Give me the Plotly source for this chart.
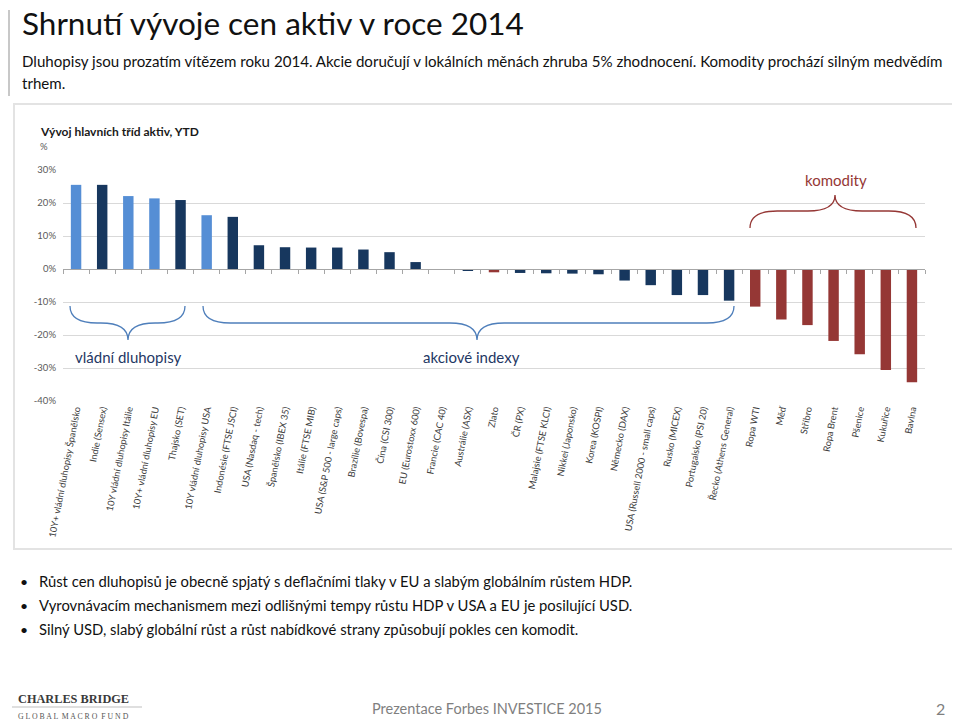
import plotly.graph_objects as go

# page renders the figure with an 8px body margin
OFF = 8
W, H = 952, 714

categories = [
    "10Y+ vládní dluhopisy Španělsko", "Indie (Sensex)", "10Y vládní dluhopisy Itálie",
    "10Y+ vládní dluhopisy EU", "Thajsko (SET)", "10Y vládní dluhopisy USA",
    "Indonésie (FTSE JSCI)", "USA (Nasdaq - tech)", "Španělsko (IBEX 35)",
    "Itálie (FTSE MIB)", "USA (S&P 500 - large caps)", "Brazílie (Bovespa)",
    "Čína (CSI 300)", "EU (Eurostoxx 600)", "Francie (CAC 40)", "Austrálie (ASX)",
    "Zlato", "ČR (PX)", "Malajsie (FTSE KLCI)", "Nikkei (Japonsko)", "Korea (KOSPI)",
    "Německo (DAX)", "USA (Russell 2000 - small caps)", "Rusko (MICEX)",
    "Portugalsko (PSI 20)", "Řecko (Athens General)", "Ropa WTI", "Měď", "Stříbro",
    "Ropa Brent", "Pšenice", "Kukuřice", "Bavlna",
]
values = [
    25.5, 25.5, 22.1, 21.4, 20.9, 16.3, 15.8, 7.2, 6.6, 6.5, 6.5, 5.9, 5.1, 2.1,
    -0.3, -0.6, -1.0, -1.2, -1.3, -1.4, -1.6, -3.5, -4.9, -7.9, -7.9, -9.6,
    -11.4, -15.3, -17.0, -21.8, -25.8, -30.6, -34.3,
]
groups = [
    "bond", "equity", "bond", "bond", "equity", "bond", "equity", "equity", "equity",
    "equity", "equity", "equity", "equity", "equity", "equity", "equity", "commodity",
    "equity", "equity", "equity", "equity", "equity", "equity", "equity", "equity",
    "equity", "commodity", "commodity", "commodity", "commodity", "commodity",
    "commodity", "commodity",
]
ytick_vals = [-40, -30, -20, -10, 0, 10, 20, 30]
ytick_text = ["-40%", "-30%", "-20%", "-10%", "0%", "10%", "20%", "30%"]
YMIN, YMAX = -40, 30

group_colors = {"bond": "#558ED5", "equity": "#17375E", "commodity": "#953735"}
bar_colors = [group_colors[g] for g in groups]

FONT = "Lato, 'Open Sans', sans-serif"


def px(x):
    return (x - OFF) / W


def py(y):
    return 1 - (y - OFF) / H


x_dom = [px(63), px(925)]
y_dom = [py(401), py(170)]
zero_pos = y_dom[0] + (y_dom[1] - y_dom[0]) * (0 - YMIN) / (YMAX - YMIN)

fig = go.Figure()
fig.add_trace(go.Bar(
    x=categories, y=values, marker=dict(color=bar_colors, line=dict(width=0)),
    hoverinfo="x+y", showlegend=False,
))
# invisible trace to carry the zero-line axis with tick marks
fig.add_trace(go.Scatter(
    x=categories, y=[0] * len(categories), xaxis="x2", mode="markers",
    marker=dict(opacity=0), hoverinfo="skip", showlegend=False,
))

fig.update_layout(
    width=W, height=H, margin=dict(l=0, r=0, t=0, b=0),
    paper_bgcolor="white", plot_bgcolor="white",
    bargap=0.6,
    font=dict(family=FONT, color="#404040"),
    xaxis=dict(
        domain=x_dom, anchor="y", type="category", categoryorder="array",
        categoryarray=categories, range=[-0.5, len(categories) - 0.5],
        tickangle=-79, tickfont=dict(size=9.3, color="#404040", family=FONT),
        showline=False, showgrid=False, ticks="", automargin=False,
    ),
    xaxis2=dict(
        domain=x_dom, overlaying="x", anchor="free", position=zero_pos,
        type="category", categoryorder="array", categoryarray=categories,
        range=[-0.5, len(categories) - 0.5], showticklabels=False,
        showline=True, linecolor="#A6A6A6", linewidth=1.2,
        ticks="outside", ticklen=4, tickcolor="#A6A6A6", tickson="boundaries",
        showgrid=False, automargin=False,
    ),
    yaxis=dict(
        domain=y_dom, range=[YMIN, YMAX], tickvals=ytick_vals, ticktext=ytick_text,
        tickfont=dict(size=9.5, color="#595959", family=FONT),
        showgrid=True, gridcolor="#D9D9D9", gridwidth=1, zeroline=False,
        showline=False, ticks="", ticklabelstandoff=6, automargin=False,
    ),
)

shapes = []
# chart frame
shapes.append(dict(type="rect", xref="paper", yref="paper", x0=px(14), x1=px(957),
                   y0=py(549), y1=py(104), line=dict(color="#E3E3E3", width=2),
                   layer="below"))
# left slide accent line
shapes.append(dict(type="line", xref="paper", yref="paper", x0=px(9), x1=px(9),
                   y0=py(10), y1=py(96), line=dict(color="#C8C8C8", width=2)))
# footer logo rule
shapes.append(dict(type="line", xref="paper", yref="paper", x0=px(12), x1=px(142),
                   y0=py(707), y1=py(707), line=dict(color="#BFBFBF", width=1)))


def brace_path(x0, x1, y_end, y_mid, y_tip, xc):
    r = abs(y_mid - y_end)

    def P(x, y):
        return f"{px(x):.5f},{py(y):.5f}"
    d = (f"M {P(x0, y_end)} Q {P(x0, y_mid)} {P(x0 + r * 1.6, y_mid)} "
         f"L {P(xc - r * 1.6, y_mid)} Q {P(xc, y_mid)} {P(xc, y_tip)} "
         f"Q {P(xc, y_mid)} {P(xc + r * 1.6, y_mid)} "
         f"L {P(x1 - r * 1.6, y_mid)} Q {P(x1, y_mid)} {P(x1, y_end)}")
    return d


blue_br = "#4F7FBB"
red_br = "#953735"
shapes.append(dict(type="path", xref="paper", yref="paper",
                   path=brace_path(70, 185, 306, 323, 340, 128),
                   line=dict(color=blue_br, width=1.3)))
shapes.append(dict(type="path", xref="paper", yref="paper",
                   path=brace_path(203, 734, 306, 323, 340, 477),
                   line=dict(color=blue_br, width=1.3)))
shapes.append(dict(type="path", xref="paper", yref="paper",
                   path=brace_path(750, 916, 228, 211, 195, 835),
                   line=dict(color=red_br, width=1.3)))
fig.update_layout(shapes=shapes)

ann = []


def text(x, y, s, size, color="#000000", anchor="left", family=FONT, **kw):
    ann.append(dict(x=px(x), y=py(y), xref="paper", yref="paper", text=s,
                    showarrow=False, xanchor=anchor, yanchor="middle",
                    font=dict(size=size, color=color, family=family), **kw))


text(20, 23, "Shrnutí vývoje cen aktiv v roce 2014", 31.5, "#111111")
text(20, 61, "Dluhopisy jsou prozatím vítězem roku 2014. Akcie doručují v lokálních měnách "
             "zhruba 5% zhodnocení. Komodity prochází silným medvědím", 15.1, "#111111")
text(20, 83, "trhem.", 15.1, "#111111")
text(38, 131, "<b>Vývoj hlavních tříd aktiv, YTD</b>", 12, "#1a1a1a")
text(38, 147, "%", 9.5, "#595959")
text(128, 357, "vládní dluhopisy", 15, "#1F3864", anchor="center")
text(471, 357, "akciové indexy", 15, "#1F3864", anchor="center")
text(836, 180, "komodity", 15, "#953735", anchor="center")

bullets = [
    "Růst cen dluhopisů je obecně spjatý s deflačními tlaky v EU a slabým globálním růstem HDP.",
    "Vyrovnávacím mechanismem mezi odlišnými tempy růstu HDP v USA a EU je posilující USD.",
    "Silný USD, slabý globální růst a růst nabídkové strany způsobují pokles cen komodit.",
]
for i, b in enumerate(bullets):
    yy = 581 + 24 * i
    text(18, yy, "•", 14, "#111111")
    text(37, yy, b, 14.8, "#111111")

SERIF = "'Liberation Serif', 'DejaVu Serif', serif"
text(16, 699, "<b>CHARLES BRIDGE</b>", 12.3, "#3a3a3a", family=SERIF)
text(16, 716, "G L O B A L  M A C R O  F U N D", 7.8, "#555555", family=SERIF)
text(370, 708, "Prezentace Forbes INVESTICE 2015", 14.5, "#7F7F7F")
text(947, 708, "2", 16, "#7F7F7F", anchor="right")

fig.update_layout(annotations=ann)

fig.write_html("out.html")
